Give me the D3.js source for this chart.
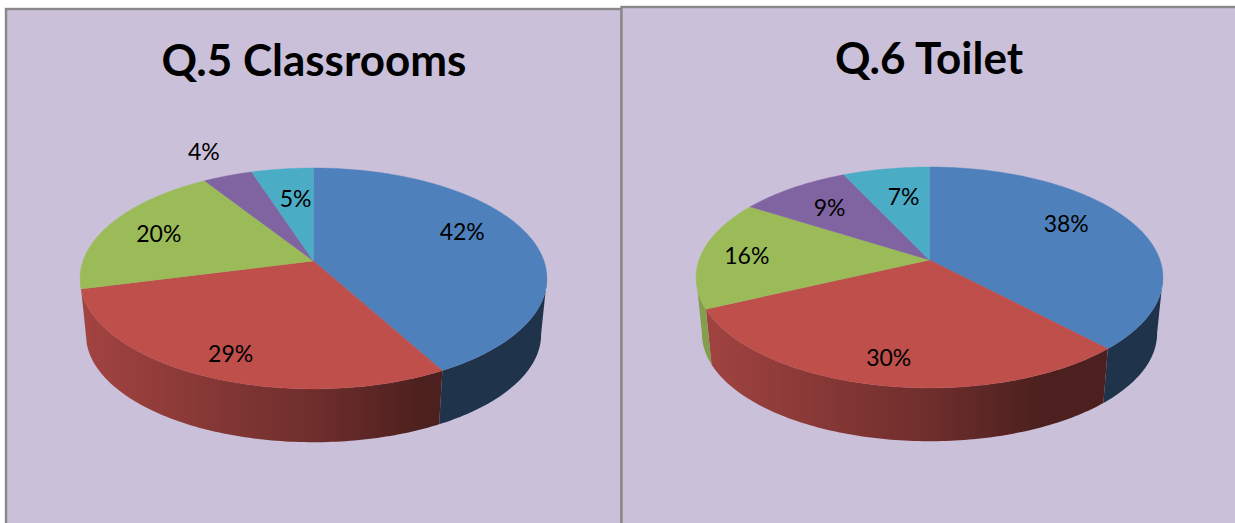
<!DOCTYPE html>
<html lang="en">
<head>
<meta charset="UTF-8">
<script src="https://d3js.org/d3.v7.min.js"></script>
<style>
    body { margin: 0; background: #fff; }
    svg { display: block; }
    text { font-family: Lato, "Open Sans", sans-serif; fill: #000; }
</style>
</head>
<body>
<div id="here"></div>
<script>
    const titles = ["Q.5 Classrooms", "Q.6 Toilet"];
    const classrooms = [42, 29, 20, 4, 5];
    const toilet = [38, 30, 16, 9, 7];
    const colors = ["#4e80bc", "#be4f4b", "#9bbb59", "#8064a2", "#4bacc6"];

    // best-fit label spots, clockwise degrees from 12 o'clock + fraction of the radius
    const classroomLabelAngles = [67.4, 202.6, 290.5, 334.8, 352.3];
    const classroomLabelRadii = [0.73, 0.823, 0.746, 1.33, 0.639];
    const toiletLabelAngles = [60.6, 191, 272.7, 318.1, 349.1];
    const toiletLabelRadii = [0.719, 0.81, 0.798, 0.702, 0.656];

    const w = 1235, h = 523;
    const k = 0.158;            // perspective of the tilted pie
    const depth = 56.5;         // apex of bottom face below apex of top face
    const bottomScale = 0.975;  // bottom face is a little smaller
    const wallFrom = 99, wallTo = 261; // part of the rim which faces the viewer

    const svg = d3.select("#here").append("svg").attr("width", w).attr("height", h);
    const defs = svg.append("defs");

    const charts = [
        { panel: [6, 9, 615.5], cx: 313.5, cy: 261, titleX: 314, titleY: 76, values: classrooms, title: titles[0], angles: classroomLabelAngles, radii: classroomLabelRadii },
        { panel: [621.5, 7, 620], cx: 929.5, cy: 260, titleX: 929, titleY: 74, values: toilet, title: titles[1], angles: toiletLabelAngles, radii: toiletLabelRadii }
    ];

    function makeChart(c, idx) {
        const g = svg.append("g");
        g.append("rect")
            .attr("x", c.panel[0]).attr("y", c.panel[1])
            .attr("width", c.panel[2]).attr("height", h)
            .attr("fill", "#cbc0da").attr("stroke", "#898989").attr("stroke-width", 2.4);

        const xSc = d3.scaleLinear().domain([-1, 1]).range([c.cx - 230.5, c.cx + 230.5]);
        const ySc = d3.scaleLinear().domain([-1, 1]).range([c.cy - 107.7, c.cy + 107.7]);

        // deg clockwise from 12 o'clock, r in radii, s = scale of the face, dy = drop of the face
        function project(deg, r, s, dy) {
            const a = deg * Math.PI / 180;
            const X = r * Math.sin(a), Y = -r * Math.cos(a);
            const d = 1 - k * Y;
            return [c.cx + (xSc(X / d) - c.cx) * s, c.cy + (ySc(Y / d) - c.cy) * s + dy];
        }

        function arcPoints(from, to, s, dy) {
            const n = Math.max(2, Math.ceil(Math.abs(to - from)));
            return d3.range(n + 1).map(i => project(from + (to - from) * i / n, 1, s, dy));
        }

        const line = d3.line();
        const toDeg = 180 / Math.PI;
        const slices = d3.pie().sort(null)(c.values).map(d => ({
            value: d.value,
            startAngle: d.startAngle * toDeg,
            endAngle: d.endAngle * toDeg
        }));

        // side walls, shade only depends on x from the pie centre
        const shade = d3.scaleLinear().domain([-234, 0, 110, 234]).range([0.86, 0.58, 0.4, 0.4]);
        slices.forEach((d, i) => {
            const from = Math.max(d.startAngle, wallFrom), to = Math.min(d.endAngle, wallTo);
            if (from >= to) return;
            const id = `wall${idx}${i}`;
            const grad = defs.append("linearGradient").attr("id", id)
                .attr("gradientUnits", "userSpaceOnUse")
                .attr("x1", c.cx - 234).attr("x2", c.cx + 234).attr("y1", 0).attr("y2", 0);
            shade.domain().forEach(x => {
                const col = d3.rgb(colors[i]);
                const f = shade(x);
                grad.append("stop")
                    .attr("offset", (x + 234) / 468)
                    .attr("stop-color", d3.rgb(col.r * f, col.g * f, col.b * f).formatHex());
            });
            const pts = arcPoints(from, to, 1, 0).concat(arcPoints(to, from, bottomScale, depth));
            g.append("path").attr("d", line(pts) + "Z").attr("fill", `url(#${id})`);
        });

        // top face
        slices.forEach((d, i) => {
            const pts = [project(0, 0, 1, 0)].concat(arcPoints(d.startAngle, d.endAngle, 1, 0));
            g.append("path").attr("d", line(pts) + "Z")
                .attr("fill", colors[i]).attr("stroke", colors[i]).attr("stroke-width", 0.4);
        });

        g.selectAll("text.lab").data(slices).enter().append("text")
            .attr("class", "lab")
            .attr("x", (d, i) => project(c.angles[i], c.radii[i], 1, 0)[0])
            .attr("y", (d, i) => project(c.angles[i], c.radii[i], 1, 0)[1] - 1)
            .attr("text-anchor", "middle").attr("dominant-baseline", "central")
            .attr("font-size", 23)
            .text(d => d.value + "%");

        g.append("text")
            .attr("x", c.titleX).attr("y", c.titleY)
            .attr("text-anchor", "middle")
            .attr("font-size", 44).attr("font-weight", 700)
            .text(c.title);
    }

    charts.forEach(makeChart);
</script>
</body>
</html>
